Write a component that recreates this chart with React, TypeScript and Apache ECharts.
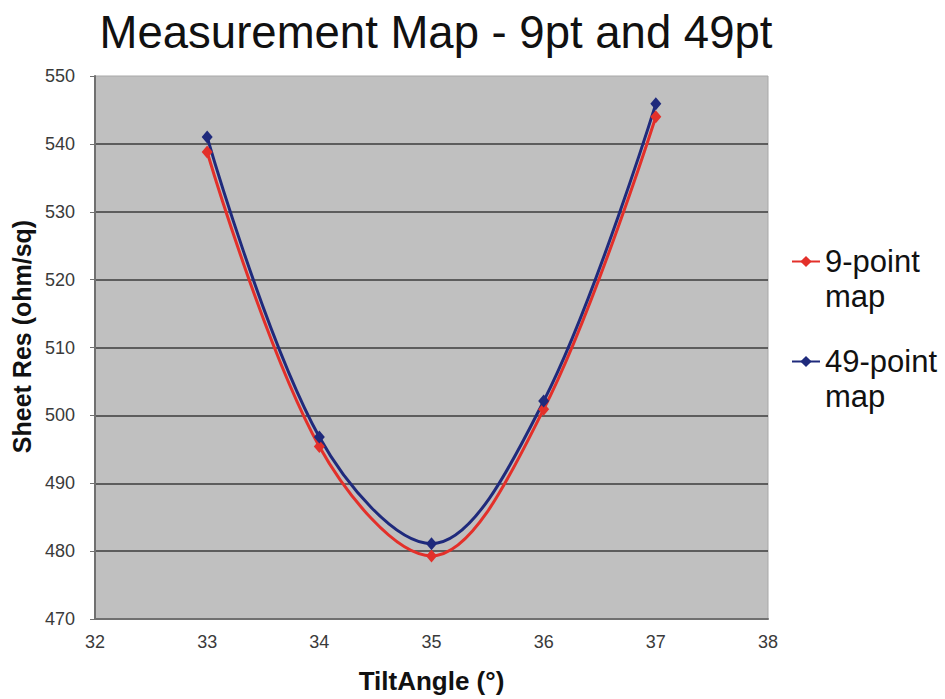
import React, { useEffect, useRef } from "react";
import * as echarts from "echarts";

const tiltAngles = [33, 34, 35, 36, 37];
const ninePoint = [538.8, 495.4, 479.3, 500.9, 544.0];
const fortyNinePoint = [541.0, 496.8, 481.1, 502.1, 545.9];
const seriesNames = ["9-point\nmap", "49-point\nmap"];
const titleText = "Measurement Map - 9pt and 49pt";
const xName = "TiltAngle (°)";
const yName = "Sheet Res (ohm/sq)";

const FONT = "'Liberation Sans', Arial, sans-serif";

export default function App() {
  const ref = useRef<HTMLDivElement>(null);
  useEffect(() => {
    if (!ref.current) return;
    const chart = echarts.init(ref.current, null, { renderer: "svg" });
    const toPairs = (ys: number[]) => tiltAngles.map((x, i) => [x, ys[i]]);
    const LH = 35;
    chart.setOption({
      animation: false,
      backgroundColor: "#ffffff",
      title: {
        text: titleText,
        left: 431,
        top: 4,
        textAlign: "center",
        textStyle: { fontFamily: FONT, fontSize: 45.5, fontWeight: "normal", color: "#111" },
      },
      legend: {
        orient: "vertical",
        left: 786,
        top: 204,
        itemWidth: 28,
        itemHeight: 14,
        itemGap: -5,
        data: seriesNames,
        formatter: (name: string) => " \n" + name,
        textStyle: {
          fontFamily: FONT,
          fontSize: 31,
          lineHeight: LH,
          color: "#111",
        },
      },
      grid: {
        left: 95,
        right: 177,
        top: 76,
        bottom: 80,
        show: true,
        backgroundColor: "#c0c0c0",
        borderColor: "#a8a8a8",
        borderWidth: 1,
      },
      xAxis: {
        type: "value",
        min: 32,
        max: 38,
        interval: 1,
        name: xName,
        nameLocation: "middle",
        nameGap: 49,
        nameTextStyle: { fontFamily: FONT, fontSize: 26, fontWeight: "bold", color: "#111" },
        axisLine: { show: true, lineStyle: { color: "#707070", width: 2 } },
        axisTick: { show: false },
        splitLine: { show: false },
        axisLabel: { fontFamily: FONT, fontSize: 18, color: "#3a3a3a", margin: 14 },
      },
      yAxis: {
        type: "value",
        min: 470,
        max: 550,
        interval: 10,
        name: yName,
        nameLocation: "middle",
        nameGap: 58,
        nameTextStyle: {
          fontFamily: FONT,
          fontSize: 25,
          fontWeight: "bold",
          color: "#111",
          padding: [0, 0, 0, 22],
        },
        axisLine: { show: true, lineStyle: { color: "#707070", width: 2 } },
        axisTick: { show: true, length: 5, lineStyle: { color: "#707070" } },
        axisLabel: { fontFamily: FONT, fontSize: 18, color: "#3a3a3a", margin: 20 },
        splitLine: {
          show: true,
          lineStyle: {
            color: [
              "rgba(0,0,0,0)",
              "#3c3c3c",
              "#3c3c3c",
              "#3c3c3c",
              "#3c3c3c",
              "#3c3c3c",
              "#3c3c3c",
              "#3c3c3c",
              "rgba(0,0,0,0)",
            ],
            width: 1.5,
          },
        },
      },
      series: [
        {
          name: seriesNames[0],
          type: "line",
          smooth: 0.35,
          data: toPairs(ninePoint),
          symbol: "diamond",
          symbolSize: [11, 13],
          itemStyle: { color: "#e3302a" },
          lineStyle: { color: "#e3302a", width: 3 },
        },
        {
          name: seriesNames[1],
          type: "line",
          smooth: 0.35,
          data: toPairs(fortyNinePoint),
          symbol: "diamond",
          symbolSize: [11, 13],
          itemStyle: { color: "#1f2a7c" },
          lineStyle: { color: "#1f2a7c", width: 3 },
        },
      ],
    });
    return () => chart.dispose();
  }, []);
  return (
    <div
      ref={ref}
      style={{ position: "fixed", left: 0, top: 0, width: 945, height: 699, background: "#fff" }}
    />
  );
}
